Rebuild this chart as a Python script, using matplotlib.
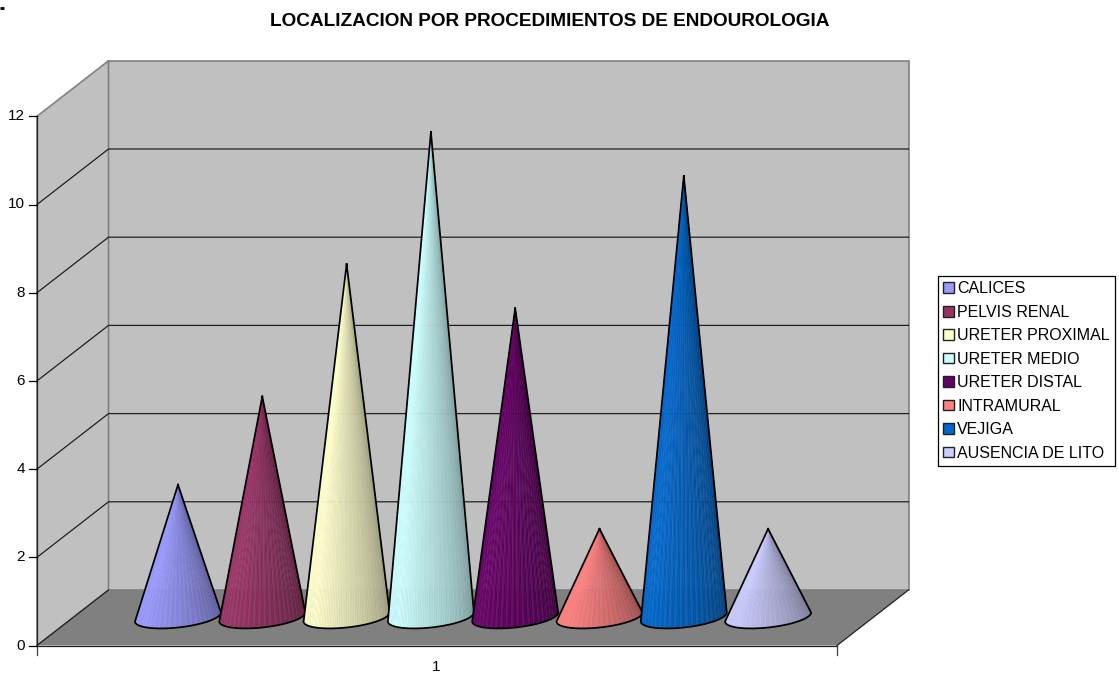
import numpy as np
import matplotlib
matplotlib.use('Agg')
from matplotlib import pyplot as plt
from matplotlib.patches import Patch, Polygon

plt.rcParams['font.family'] = ['Liberation Sans', 'DejaVu Sans']

title = "LOCALIZACION POR PROCEDIMIENTOS DE ENDOUROLOGIA"
categories = ["CALICES", "PELVIS RENAL", "URETER PROXIMAL", "URETER MEDIO",
              "URETER DISTAL", "INTRAMURAL", "VEJIGA", "AUSENCIA DE LITO"]
values = [3, 5, 8, 11, 7, 2, 10, 2]
colors = ["#9999FF", "#993366", "#FFFFCC", "#CCFFFF",
          "#660066", "#FF8080", "#0066CC", "#CCCCFF"]
y_ticks = [0, 2, 4, 6, 8, 10, 12]
x_label = "1"

# scale of the plot in pixels
PX_X = 84.3
PX_Y = 44.1
X0 = 178
Y0 = 645.5
W, H = 1119, 674

fig = plt.figure(figsize=(W / 100, H / 100), dpi=100)
ax = fig.add_axes([0, 0, 1, 1])
ax.set_xlim((0 - X0) / PX_X, (W - X0) / PX_X)
ax.set_ylim((Y0 - H) / PX_Y, Y0 / PX_Y)
ax.axis('off')


def px(x, y):
    return (x - X0) / PX_X, (Y0 - y) / PX_Y


# walls and floor
left, right = 37, 837
dx, dy = 71.5, 55.5
top = Y0 - 12 * PX_Y
back_wall = [px(left + dx, Y0 - dy), px(right + dx, Y0 - dy), px(right + dx, top - dy), px(left + dx, top - dy)]
side_wall = [px(left, Y0), px(left + dx, Y0 - dy), px(left + dx, top - dy), px(left, top)]
floor = [px(left, Y0), px(right, Y0), px(right + dx, Y0 - dy), px(left + dx, Y0 - dy)]
ax.add_patch(Polygon(back_wall, fc="#C0C0C0", ec="#808080", lw=1.2, zorder=1))
ax.add_patch(Polygon(side_wall, fc="#C0C0C0", ec="#808080", lw=1.2, zorder=1))
ax.add_patch(Polygon(floor, fc="#808080", ec="none", zorder=1.5))

# gridlines, on the back wall and the side wall
for t in y_ticks[1:-1]:
    yt = Y0 - t * PX_Y
    xs, ys = zip(px(left, yt), px(left + dx, yt - dy), px(right + dx, yt - dy))
    ax.plot(xs, ys, color="#202020", lw=0.9, zorder=2)

# axis lines and ticks
for a, b, c in [((left, top), (left, Y0), "#202020"),
                ((left, Y0), (right, Y0), "#202020"),
                ((right, Y0), (right + dx, Y0 - dy), "#202020"),
                ((left, Y0), (left + dx, Y0 - dy), "#202020"),
                ((left, Y0), (left, Y0 + 9), "#404040"),
                ((right, Y0), (right, Y0 + 9), "#404040")]:
    xs, ys = zip(px(*a), px(*b))
    ax.plot(xs, ys, color=c, lw=0.9, zorder=3)

for t in y_ticks:
    yt = Y0 - t * PX_Y
    xs, ys = zip(px(left - 8, yt), px(left, yt))
    ax.plot(xs, ys, color="black", lw=0.9, zorder=3)
    tx, ty = px(left - 12, yt)
    ax.text(tx, ty, str(t), ha='right', va='center', fontsize=11)

tx, ty = px(436, 667)
ax.text(tx, ty, x_label, ha='center', va='center', fontsize=11)

tx, ty = px(549.5, 21.5)
ax.text(tx, ty, title, ha='center', va='center', fontsize=13.65, fontweight='bold')

# small mark in the top left corner
xs, ys = zip(px(0, 8), px(4, 8))
ax.plot(xs, ys, color="black", lw=2, solid_capstyle='butt', zorder=3)

# cones
half_w = 43 / PX_X
half_h = 10.5 / PX_Y
tilt = 4.5 / PX_Y
base = 28.5 / PX_Y
n_strips = 72
for i, (v, c) in enumerate(zip(values, colors)):
    rgb = np.array(matplotlib.colors.to_rgb(c))
    t = np.linspace(np.pi, 0, n_strips + 1)
    bx = i + half_w * np.cos(t)
    by = base - half_h * np.sin(t) + tilt * np.cos(t)
    tip = (i, base + v)
    for k in range(n_strips):
        s = k / (n_strips - 1)
        # bright on the left, dark towards the right
        shade = 1.0 - 0.02 * abs(s - 0.22) / 0.22 if s < 0.22 else 1.0 - 0.42 * ((s - 0.22) / 0.78) ** 1.1
        col = rgb * shade
        if k % 3 == 1:
            col = col + (1 - col) * 0.07
        ax.add_patch(Polygon([tip, (bx[k], by[k]), (bx[k + 1], by[k + 1])],
                             fc=col, ec=col, lw=0.3, zorder=4 + i))
    outline = np.column_stack([np.r_[tip[0], bx, tip[0]], np.r_[tip[1], by, tip[1]]])
    ax.plot(outline[:, 0], outline[:, 1], color="black", lw=1.25, solid_joinstyle='round', zorder=4.5 + i)

handles = [Patch(fc=c, ec="#202020", lw=1) for c in colors]
leg = ax.legend(handles, categories, loc='upper left', bbox_to_anchor=(938 / W, 1 - 276 / H),
                bbox_transform=fig.transFigure, fontsize=11.5, frameon=True, fancybox=False,
                edgecolor="black", framealpha=1, handlelength=0.66, handleheight=0.66,
                handletextpad=0.22, labelspacing=0.53, borderpad=0.33, borderaxespad=0)
leg.get_frame().set_linewidth(0.9)
leg.set_zorder(20)

fig.savefig("out.png", dpi=100)
